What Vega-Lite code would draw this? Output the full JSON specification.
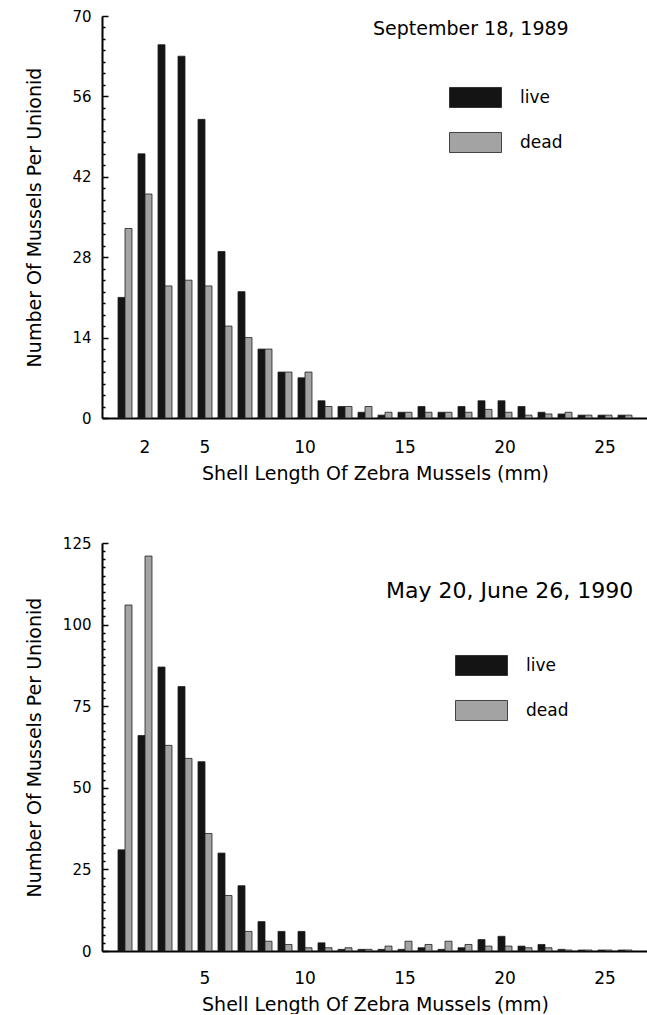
{
  "$schema": "https://vega.github.io/schema/vega-lite/v6.json",
  "padding": {"left": 25, "top": 9, "right": 0, "bottom": 0},
  "spacing": 53,
  "config": {
    "font": "DejaVu Sans",
    "view": {"stroke": null},
    "axis": {"labelFont": "DejaVu Sans", "titleFont": "DejaVu Sans", "labelColor": "#000", "titleColor": "#000", "domainColor": "#000", "tickColor": "#000", "grid": false, "titleFontWeight": "normal", "labelOverlap": false},
    "legend": {"labelFont": "DejaVu Sans", "labelColor": "#000"},
    "text": {"font": "DejaVu Sans", "color": "#000"}
  },
  "resolve": {"scale": {"color": "independent", "x": "independent", "y": "independent"}, "legend": {"color": "independent"}},
  "datasets": {
    "sep1989": [
      {"length": 1, "status": "live", "count": 21}, {"length": 1, "status": "dead", "count": 33},
      {"length": 2, "status": "live", "count": 46}, {"length": 2, "status": "dead", "count": 39},
      {"length": 3, "status": "live", "count": 65}, {"length": 3, "status": "dead", "count": 23},
      {"length": 4, "status": "live", "count": 63}, {"length": 4, "status": "dead", "count": 24},
      {"length": 5, "status": "live", "count": 52}, {"length": 5, "status": "dead", "count": 23},
      {"length": 6, "status": "live", "count": 29}, {"length": 6, "status": "dead", "count": 16},
      {"length": 7, "status": "live", "count": 22}, {"length": 7, "status": "dead", "count": 14},
      {"length": 8, "status": "live", "count": 12}, {"length": 8, "status": "dead", "count": 12},
      {"length": 9, "status": "live", "count": 8}, {"length": 9, "status": "dead", "count": 8},
      {"length": 10, "status": "live", "count": 7}, {"length": 10, "status": "dead", "count": 8},
      {"length": 11, "status": "live", "count": 3}, {"length": 11, "status": "dead", "count": 2},
      {"length": 12, "status": "live", "count": 2}, {"length": 12, "status": "dead", "count": 2},
      {"length": 13, "status": "live", "count": 1}, {"length": 13, "status": "dead", "count": 2},
      {"length": 14, "status": "live", "count": 0.5}, {"length": 14, "status": "dead", "count": 1},
      {"length": 15, "status": "live", "count": 1}, {"length": 15, "status": "dead", "count": 1},
      {"length": 16, "status": "live", "count": 2}, {"length": 16, "status": "dead", "count": 1},
      {"length": 17, "status": "live", "count": 1}, {"length": 17, "status": "dead", "count": 1},
      {"length": 18, "status": "live", "count": 2}, {"length": 18, "status": "dead", "count": 1},
      {"length": 19, "status": "live", "count": 3}, {"length": 19, "status": "dead", "count": 1.5},
      {"length": 20, "status": "live", "count": 3}, {"length": 20, "status": "dead", "count": 1},
      {"length": 21, "status": "live", "count": 2}, {"length": 21, "status": "dead", "count": 0.5},
      {"length": 22, "status": "live", "count": 1}, {"length": 22, "status": "dead", "count": 0.7},
      {"length": 23, "status": "live", "count": 0.7}, {"length": 23, "status": "dead", "count": 1},
      {"length": 24, "status": "live", "count": 0.5}, {"length": 24, "status": "dead", "count": 0.5},
      {"length": 25, "status": "live", "count": 0.5}, {"length": 25, "status": "dead", "count": 0.5},
      {"length": 26, "status": "live", "count": 0.5}, {"length": 26, "status": "dead", "count": 0.5}
    ],
    "may1990": [
      {"length": 1, "status": "live", "count": 31}, {"length": 1, "status": "dead", "count": 106},
      {"length": 2, "status": "live", "count": 66}, {"length": 2, "status": "dead", "count": 121},
      {"length": 3, "status": "live", "count": 87}, {"length": 3, "status": "dead", "count": 63},
      {"length": 4, "status": "live", "count": 81}, {"length": 4, "status": "dead", "count": 59},
      {"length": 5, "status": "live", "count": 58}, {"length": 5, "status": "dead", "count": 36},
      {"length": 6, "status": "live", "count": 30}, {"length": 6, "status": "dead", "count": 17},
      {"length": 7, "status": "live", "count": 20}, {"length": 7, "status": "dead", "count": 6},
      {"length": 8, "status": "live", "count": 9}, {"length": 8, "status": "dead", "count": 3},
      {"length": 9, "status": "live", "count": 6}, {"length": 9, "status": "dead", "count": 2},
      {"length": 10, "status": "live", "count": 6}, {"length": 10, "status": "dead", "count": 1},
      {"length": 11, "status": "live", "count": 2.5}, {"length": 11, "status": "dead", "count": 1},
      {"length": 12, "status": "live", "count": 0.5}, {"length": 12, "status": "dead", "count": 1},
      {"length": 13, "status": "live", "count": 0.5}, {"length": 13, "status": "dead", "count": 0.5},
      {"length": 14, "status": "live", "count": 0.5}, {"length": 14, "status": "dead", "count": 1.5},
      {"length": 15, "status": "live", "count": 0.5}, {"length": 15, "status": "dead", "count": 3},
      {"length": 16, "status": "live", "count": 1}, {"length": 16, "status": "dead", "count": 2},
      {"length": 17, "status": "live", "count": 0.5}, {"length": 17, "status": "dead", "count": 3},
      {"length": 18, "status": "live", "count": 1}, {"length": 18, "status": "dead", "count": 2},
      {"length": 19, "status": "live", "count": 3.5}, {"length": 19, "status": "dead", "count": 1.5},
      {"length": 20, "status": "live", "count": 4.5}, {"length": 20, "status": "dead", "count": 1.5},
      {"length": 21, "status": "live", "count": 1.5}, {"length": 21, "status": "dead", "count": 1},
      {"length": 22, "status": "live", "count": 2}, {"length": 22, "status": "dead", "count": 1},
      {"length": 23, "status": "live", "count": 0.5}, {"length": 23, "status": "dead", "count": 0.3},
      {"length": 24, "status": "live", "count": 0.3}, {"length": 24, "status": "dead", "count": 0.3},
      {"length": 25, "status": "live", "count": 0.3}, {"length": 25, "status": "dead", "count": 0.3},
      {"length": 26, "status": "live", "count": 0.3}, {"length": 26, "status": "dead", "count": 0.3}
    ]
  },
  "vconcat": [
    {
      "width": 546,
      "height": 402,
      "layer": [
        {
          "data": {"name": "sep1989"},
          "mark": {"type": "bar", "stroke": "#1e1e1e", "strokeWidth": 0.8},
          "encoding": {
            "x": {"field": "length", "type": "ordinal", "sort": "ascending", "scale": {"paddingInner": 0, "paddingOuter": 0.65},
              "axis": {"values": [2, 5, 10, 15, 20, 25], "labelAngle": 0, "ticks": false, "tickSize": 0, "labelPadding": 21, "labelFontSize": 17, "domainWidth": 2, "title": "Shell Length Of Zebra Mussels (mm)", "titleFontSize": 19, "titlePadding": 9}},
            "xOffset": {"field": "status", "type": "nominal", "sort": ["live", "dead"], "scale": {"domain": ["live", "dead"], "paddingInner": 0, "paddingOuter": 0.43}},
            "y": {"field": "count", "type": "quantitative", "scale": {"domain": [0, 70], "nice": false},
              "axis": {"values": [0, 2, 4, 6, 8, 10, 12, 14, 16, 18, 20, 22, 24, 26, 28, 30, 32, 34, 36, 38, 40, 42, 44, 46, 48, 50, 52, 54, 56, 58, 60, 62, 64, 66, 68, 70],
                "labelExpr": "datum.value % 14 === 0 ? datum.label : ''",
                "ticks": true,
                "tickSize": {"condition": {"test": "datum.value % 14 === 0", "value": -6}, "value": -3},
                "tickWidth": 1.5,
                "labelPadding": 17, "labelFontSize": 15, "labelOverlap": false, "domainWidth": 2,
                "title": "Number Of Mussels Per Unionid", "titleFontSize": 19, "titleX": -68, "titleY": 201, "titleAngle": -90, "titleAlign": "center", "titleBaseline": "middle"}},
            "color": {"field": "status", "type": "nominal", "scale": {"domain": ["live", "dead"], "range": ["#141414", "#a3a3a3"]},
              "legend": {"title": null, "orient": "none", "direction": "vertical", "legendX": 347, "legendY": 55, "symbolType": "M-1,-0.385L1,-0.385L1,0.385L-1,0.385Z", "symbolSize": 2704, "symbolStrokeWidth": 0.8, "symbolStrokeColor": "#1e1e1e", "symbolOpacity": 1, "labelFontSize": 17, "labelOffset": 18, "rowPadding": 6, "padding": 0}}
          }
        },
        {
          "data": {"values": [{"label": "September 18,  1989"}]},
          "mark": {"type": "text", "fontSize": 19, "align": "left", "baseline": "middle", "dx": 8},
          "encoding": {
            "text": {"field": "label"},
            "x": {"datum": 13, "type": "ordinal",
              "axis": {"values": [2, 5, 10, 15, 20, 25], "labelAngle": 0, "ticks": false, "tickSize": 0, "labelPadding": 21, "labelFontSize": 17, "domainWidth": 2, "title": "Shell Length Of Zebra Mussels (mm)", "titleFontSize": 19, "titlePadding": 9}},
            "y": {"datum": 67.7, "type": "quantitative",
              "axis": {"values": [0, 2, 4, 6, 8, 10, 12, 14, 16, 18, 20, 22, 24, 26, 28, 30, 32, 34, 36, 38, 40, 42, 44, 46, 48, 50, 52, 54, 56, 58, 60, 62, 64, 66, 68, 70],
                "labelExpr": "datum.value % 14 === 0 ? datum.label : ''",
                "ticks": true,
                "tickSize": {"condition": {"test": "datum.value % 14 === 0", "value": -6}, "value": -3},
                "tickWidth": 1.5,
                "labelPadding": 17, "labelFontSize": 15, "labelOverlap": false, "domainWidth": 2,
                "title": "Number Of Mussels Per Unionid", "titleFontSize": 19, "titleX": -68, "titleY": 201, "titleAngle": -90, "titleAlign": "center", "titleBaseline": "middle"}}
          }
        }
      ]
    },
    {
      "width": 546,
      "height": 408,
      "layer": [
        {
          "data": {"name": "may1990"},
          "mark": {"type": "bar", "stroke": "#1e1e1e", "strokeWidth": 0.8},
          "encoding": {
            "x": {"field": "length", "type": "ordinal", "sort": "ascending", "scale": {"paddingInner": 0, "paddingOuter": 0.65},
              "axis": {"values": [5, 10, 15, 20, 25], "labelAngle": 0, "ticks": false, "tickSize": 0, "labelPadding": 19, "labelFontSize": 17, "domainWidth": 2, "title": "Shell Length Of Zebra Mussels (mm)", "titleFontSize": 19, "titlePadding": 9}},
            "xOffset": {"field": "status", "type": "nominal", "sort": ["live", "dead"], "scale": {"domain": ["live", "dead"], "paddingInner": 0, "paddingOuter": 0.43}},
            "y": {"field": "count", "type": "quantitative", "scale": {"domain": [0, 125], "nice": false},
              "axis": {"values": [0, 2.5, 5, 7.5, 10, 12.5, 15, 17.5, 20, 22.5, 25, 27.5, 30, 32.5, 35, 37.5, 40, 42.5, 45, 47.5, 50, 52.5, 55, 57.5, 60, 62.5, 65, 67.5, 70, 72.5, 75, 77.5, 80, 82.5, 85, 87.5, 90, 92.5, 95, 97.5, 100, 102.5, 105, 107.5, 110, 112.5, 115, 117.5, 120, 122.5, 125],
                "labelExpr": "datum.value % 25 === 0 ? datum.label : ''",
                "ticks": true,
                "tickSize": {"condition": {"test": "datum.value % 25 === 0", "value": -6}, "value": -3},
                "tickWidth": 1.5,
                "labelPadding": 17, "labelFontSize": 15, "labelOverlap": false, "domainWidth": 2,
                "title": "Number Of Mussels Per Unionid", "titleFontSize": 19, "titleX": -68, "titleY": 204, "titleAngle": -90, "titleAlign": "center", "titleBaseline": "middle"}},
            "color": {"field": "status", "type": "nominal", "scale": {"domain": ["live", "dead"], "range": ["#141414", "#a3a3a3"]},
              "legend": {"title": null, "orient": "none", "direction": "vertical", "legendX": 353, "legendY": 96, "symbolType": "M-1,-0.385L1,-0.385L1,0.385L-1,0.385Z", "symbolSize": 2704, "symbolStrokeWidth": 0.8, "symbolStrokeColor": "#1e1e1e", "symbolOpacity": 1, "labelFontSize": 17, "labelOffset": 18, "rowPadding": 6, "padding": 0}}
          }
        },
        {
          "data": {"values": [{"label": "May 20, June 26, 1990"}]},
          "mark": {"type": "text", "fontSize": 22, "align": "left", "baseline": "middle", "dx": 1},
          "encoding": {
            "text": {"field": "label"},
            "x": {"datum": 14, "type": "ordinal",
              "axis": {"values": [5, 10, 15, 20, 25], "labelAngle": 0, "ticks": false, "tickSize": 0, "labelPadding": 19, "labelFontSize": 17, "domainWidth": 2, "title": "Shell Length Of Zebra Mussels (mm)", "titleFontSize": 19, "titlePadding": 9}},
            "y": {"datum": 110.3, "type": "quantitative",
              "axis": {"values": [0, 2.5, 5, 7.5, 10, 12.5, 15, 17.5, 20, 22.5, 25, 27.5, 30, 32.5, 35, 37.5, 40, 42.5, 45, 47.5, 50, 52.5, 55, 57.5, 60, 62.5, 65, 67.5, 70, 72.5, 75, 77.5, 80, 82.5, 85, 87.5, 90, 92.5, 95, 97.5, 100, 102.5, 105, 107.5, 110, 112.5, 115, 117.5, 120, 122.5, 125],
                "labelExpr": "datum.value % 25 === 0 ? datum.label : ''",
                "ticks": true,
                "tickSize": {"condition": {"test": "datum.value % 25 === 0", "value": -6}, "value": -3},
                "tickWidth": 1.5,
                "labelPadding": 17, "labelFontSize": 15, "labelOverlap": false, "domainWidth": 2,
                "title": "Number Of Mussels Per Unionid", "titleFontSize": 19, "titleX": -68, "titleY": 204, "titleAngle": -90, "titleAlign": "center", "titleBaseline": "middle"}}
          }
        }
      ]
    }
  ]
}
